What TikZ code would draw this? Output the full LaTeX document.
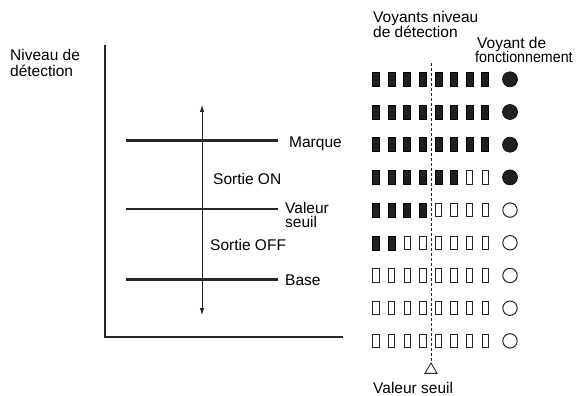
\documentclass[tikz,border=0pt]{standalone}
\usepackage{fontspec}
\setmainfont{Liberation Sans}
\usetikzlibrary{arrows.meta,shapes.geometric}
\begin{document}
\begin{tikzpicture}[x=1pt,y=-1pt,
  lbl/.style={anchor=base west, inner sep=0pt, font=\fontsize{15.5}{16}\selectfont},
  ledon/.style={draw=black, fill=black!88, minimum width=7pt, minimum height=14pt, inner sep=0pt, line width=0.5pt},
  ledoff/.style={draw=black!85, fill=white, minimum width=6.4pt, minimum height=13.4pt, inner sep=0pt, line width=1pt},
  opon/.style={circle, draw=black, fill=black!88, minimum size=15pt, inner sep=0pt, line width=0.6pt},
  opoff/.style={circle, draw=black!85, fill=white, minimum size=14.4pt, inner sep=0pt, line width=1pt},
  thick line/.style={line width=3pt, draw=black!85},
  thin line/.style={line width=1.1pt, draw=black!85},
  axis line/.style={line width=1.4pt, draw=black!85}]
\useasboundingbox (0,0) rectangle (579,396);

% axes
\coordinate (axtop) at (105,45);
\coordinate (axcorner) at (105,337);
\coordinate (axend) at (343,337);
\draw[axis line] (axtop) -- (axcorner) -- (axend);

% level lines
\coordinate (mq-l) at (126,140); \coordinate (mq-r) at (278,140);
\coordinate (vs-l) at (126,209); \coordinate (vs-r) at (278,209);
\coordinate (bs-l) at (126,279); \coordinate (bs-r) at (278,279);
\draw[thick line] (mq-l) -- (mq-r);
\draw[thin line] (vs-l) -- (vs-r);
\draw[thick line] (bs-l) -- (bs-r);

% double arrow
\coordinate (ar-top) at (202,105);
\coordinate (ar-bot) at (202,315);
\draw[line width=0.8pt, draw=black!85, {Latex[length=7pt,width=4.5pt]}-{Latex[length=7pt,width=4.5pt]}] (ar-top) -- (ar-bot);

% left labels
\node[lbl] (niv1) at (10,61) {Niveau de};
\node[lbl] (niv2) at (10,77) {détection};
\node[lbl] (marque) at (289,147) {Marque};
\node[lbl] (valeur1) at (285,213) {Valeur};
\node[lbl] (valeur2) at (285,227) {seuil};
\node[lbl] (base) at (285,285) {Base};
\node[lbl] (son) at (213,184) {Sortie ON};
\node[lbl] (soff) at (210,250) {Sortie OFF};

% right labels
\node[lbl] (voy1) at (373,23) {Voyants niveau};
\node[lbl] (voy2) at (373,38) {de détection};
\node[lbl] (fon1) at (477,49) {Voyant de};
\node[lbl] (fon2) at (475,63) {\scalebox{0.92}[1]{fonctionnement}};
\node[lbl] (vsb) at (373,393) {Valeur seuil};

% LEDs
\foreach \j/\n/\c in {1/8/1,2/8/1,3/8/1,4/6/1,5/4/0,6/2/0,7/0/0,8/0/0,9/0/0} {
  \pgfmathsetmacro\yy{79.3+32.7*(\j-1)}
  \foreach \i in {1,...,8} {
    \pgfmathsetmacro\xx{376+15.6*(\i-1)}
    \ifnum\i>\n
      \node[ledoff] (led-\j-\i) at (\xx,\yy) {};
    \else
      \node[ledon] (led-\j-\i) at (\xx,\yy) {};
    \fi
  }
  \ifnum\c=1
    \node[opon] (op-\j) at (510,\yy) {};
  \else
    \node[opoff] (op-\j) at (510,\yy) {};
  \fi
}

% threshold marker
\node[regular polygon, regular polygon sides=3, draw=black!85, line width=0.9pt, minimum size=13.9pt, inner sep=0pt] (tri) at (431,369.9) {};
\coordinate (th-top) at (431,63);
\draw[line width=0.7pt, draw=black!85, dash pattern=on 3pt off 2pt] (th-top) -- (tri.north);
\end{tikzpicture}
\end{document}
